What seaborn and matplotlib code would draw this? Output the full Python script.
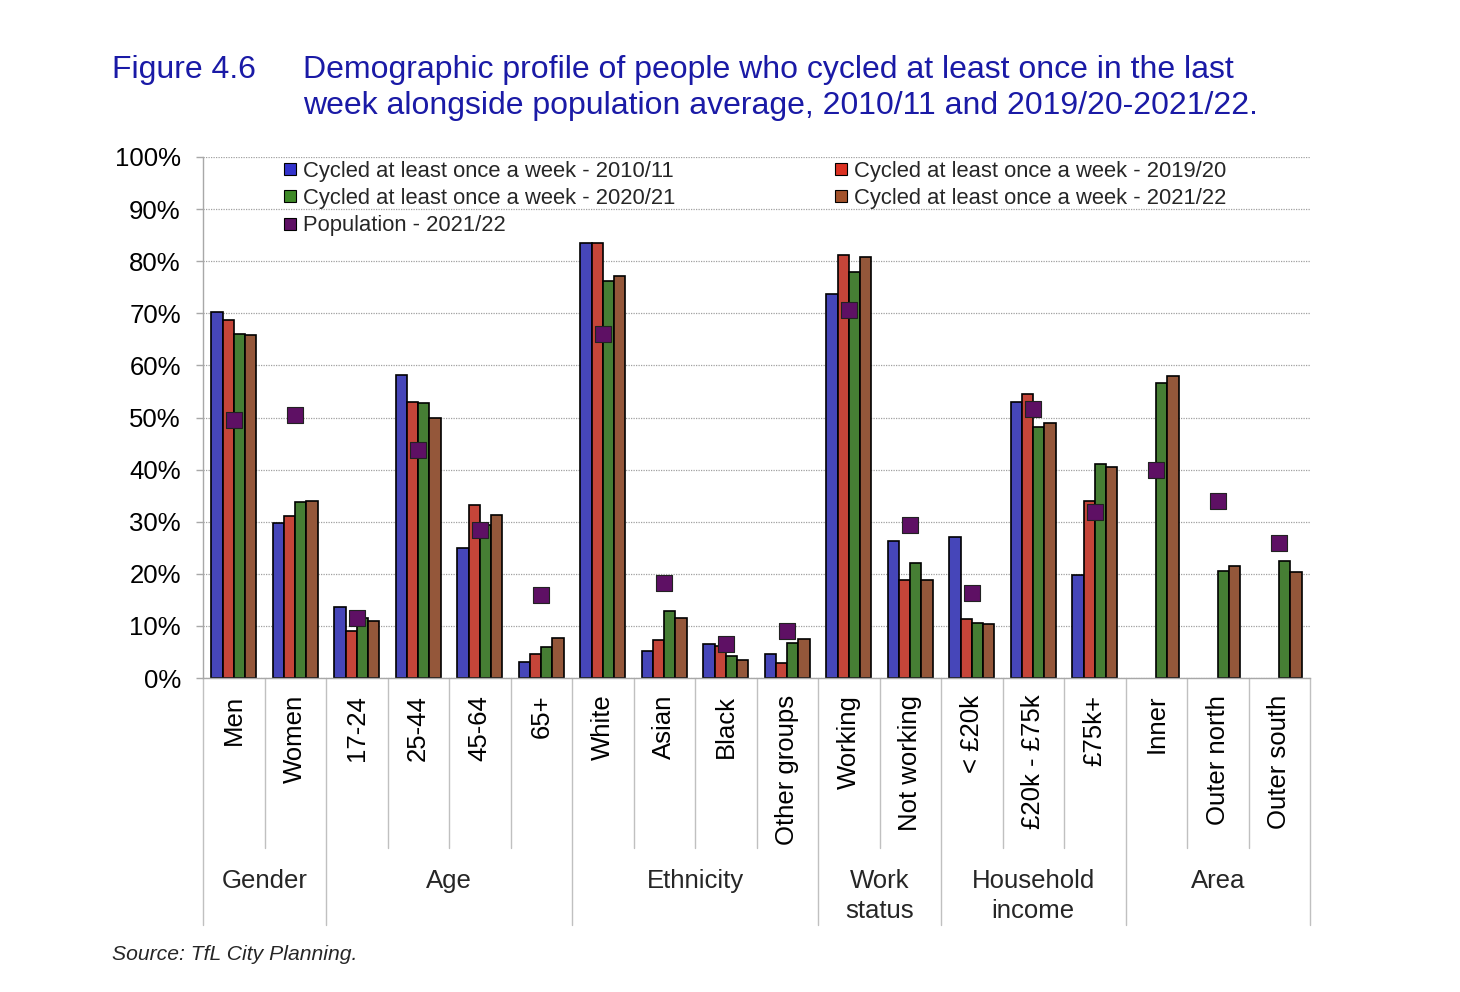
import matplotlib
matplotlib.use('Agg')

import numpy as np
import pandas as pd
import matplotlib.pyplot as plt
import seaborn as sns
from matplotlib.lines import Line2D
from matplotlib.ticker import FuncFormatter

# categories and the group they belong to
categories = ["Men", "Women", "17-24", "25-44", "45-64", "65+", "White", "Asian",
              "Black", "Other groups", "Working", "Not working", "< £20k",
              "£20k - £75k", "£75k+", "Inner", "Outer north", "Outer south"]
groups = ["Gender", "Age", "Ethnicity", "Work\nstatus", "Household\nincome", "Area"]
group_sizes = [2, 4, 4, 2, 3, 3]

series = ["Cycled at least once a week - 2010/11",
          "Cycled at least once a week - 2019/20",
          "Cycled at least once a week - 2020/21",
          "Cycled at least once a week - 2021/22"]
pop_label = "Population - 2021/22"

# percentages (no area split in 2010/11 and 2019/20)
cyc_2010 = [70.2, 29.8, 13.6, 58.1, 24.9, 3.1, 83.5, 5.1, 6.6, 4.6, 73.8, 26.2,
            27.0, 53.0, 19.7, None, None, None]
cyc_2019 = [68.8, 31.0, 9.0, 53.0, 33.2, 4.6, 83.5, 7.3, 6.1, 2.8, 81.2, 18.8,
            11.4, 54.6, 33.9, None, None, None]
cyc_2020 = [66.1, 33.8, 11.6, 52.8, 29.4, 6.0, 76.2, 12.8, 4.2, 6.7, 78.0, 22.0,
            10.5, 48.1, 41.1, 56.7, 20.5, 22.5]
cyc_2021 = [65.9, 34.0, 11.0, 50.0, 31.3, 7.6, 77.2, 11.6, 3.4, 7.5, 80.8, 18.8,
            10.3, 48.9, 40.5, 58.0, 21.5, 20.4]
population = [49.5, 50.5, 11.6, 43.8, 28.4, 15.9, 66.1, 18.3, 6.5, 9.0, 70.6, 29.4,
              16.3, 51.7, 31.8, 39.9, 33.9, 26.0]

colors = ["#3333cc", "#dc3122", "#3f8a28", "#a3522b"]
pop_color = "#5e1064"
title_color = "#1a1aa6"

sns.set_theme(style="white")
plt.rcParams['font.family'] = ['Liberation Sans', 'DejaVu Sans']

# long format table for seaborn
rows = []
for name, vals in zip(series, [cyc_2010, cyc_2019, cyc_2020, cyc_2021]):
    for cat, v in zip(categories, vals):
        rows.append({"category": cat, "series": name, "value": np.nan if v is None else v})
df = pd.DataFrame(rows)

fig = plt.figure(figsize=(14.6, 9.92), dpi=100)
ax = fig.add_axes([203 / 1460, 1 - 678 / 992, (1310 - 203) / 1460, (678 - 157) / 992])

sns.barplot(data=df, x="category", y="value", hue="series", order=categories,
            hue_order=series, palette=colors, width=0.73, errorbar=None,
            edgecolor="black", linewidth=1.2, legend=False, ax=ax)
sns.stripplot(x=categories, y=population, order=categories, jitter=False,
              marker="s", size=11, color=pop_color, edgecolor="#222222",
              linewidth=0.8, zorder=4, ax=ax)

ax.set_xlim(-0.5, len(categories) - 0.5)
ax.set_ylim(0, 100)
ax.set_yticks(np.arange(0, 101, 10))
ax.yaxis.set_major_formatter(FuncFormatter(lambda v, p: f"{v:.0f}%"))
ax.set_xlabel("")
ax.set_ylabel("")
ax.set_axisbelow(True)
ax.grid(axis="y", linestyle=(0, (1, 1)), color="#a0a0a0", linewidth=0.9)

for side in ["top", "right"]:
    ax.spines[side].set_visible(False)
for side in ["left", "bottom"]:
    ax.spines[side].set_color("#a8a8a8")
    ax.spines[side].set_linewidth(1.0)

ax.tick_params(axis="y", which="major", left=True, length=5, width=1.0,
               color="#a8a8a8", pad=11, labelsize=18.5, labelcolor="black")
ax.tick_params(axis="x", length=0, pad=12, labelsize=18.5, labelcolor="black")
plt.setp(ax.get_xticklabels(), rotation=90, va="top", ha="center")

# category separators below the axis, longer ones between groups
xt = ax.get_xaxis_transform()
bounds = np.cumsum([0] + group_sizes) - 0.5
for i in range(len(categories) + 1):
    x = i - 0.5
    low = -0.474 if x in bounds else -0.326
    ax.plot([x, x], [0, low], transform=xt, clip_on=False, color="#c0c0c0", lw=1.0)

start = 0
for g, n in zip(groups, group_sizes):
    ax.text(start + (n - 1) / 2, -0.366, g, transform=xt, ha="center", va="top",
            fontsize=18.5, linespacing=1.32)
    start += n

# legend, two columns: first column holds three entries
handles = [Line2D([], [], marker="s", linestyle="none", markersize=9,
                  markerfacecolor=c, markeredgecolor="black", markeredgewidth=0.8)
           for c in colors]
pop_handle = Line2D([], [], marker="s", linestyle="none", markersize=9,
                    markerfacecolor=pop_color, markeredgecolor="black",
                    markeredgewidth=0.8)
leg_handles = [handles[0], handles[2], pop_handle, handles[1], handles[3]]
leg_labels = [series[0], series[2], pop_label, series[1], series[3]]
fig.legend(leg_handles, leg_labels, loc="upper left",
           bbox_to_anchor=(282 / 1460, 1 - 161 / 992), bbox_transform=fig.transFigure,
           ncol=2, frameon=False, fontsize=15.8, handlelength=0.7,
           handletextpad=0.25, columnspacing=7.2, labelspacing=0.28,
           borderpad=0, borderaxespad=0)

fig.text(112 / 1460, 1 - 70 / 992, "Figure 4.6", color=title_color, fontsize=23,
         va="center", ha="left")
fig.text(303 / 1460, 1 - 70 / 992,
         "Demographic profile of people who cycled at least once in the last",
         color=title_color, fontsize=23, va="center", ha="left")
fig.text(303 / 1460, 1 - 106 / 992,
         "week alongside population average, 2010/11 and 2019/20-2021/22.",
         color=title_color, fontsize=23, va="center", ha="left")

fig.text(112 / 1460, 1 - 954 / 992, "Source: TfL City Planning.", style="italic",
         fontsize=15.2, va="center", ha="left")

fig.savefig("out.png", dpi=100)
